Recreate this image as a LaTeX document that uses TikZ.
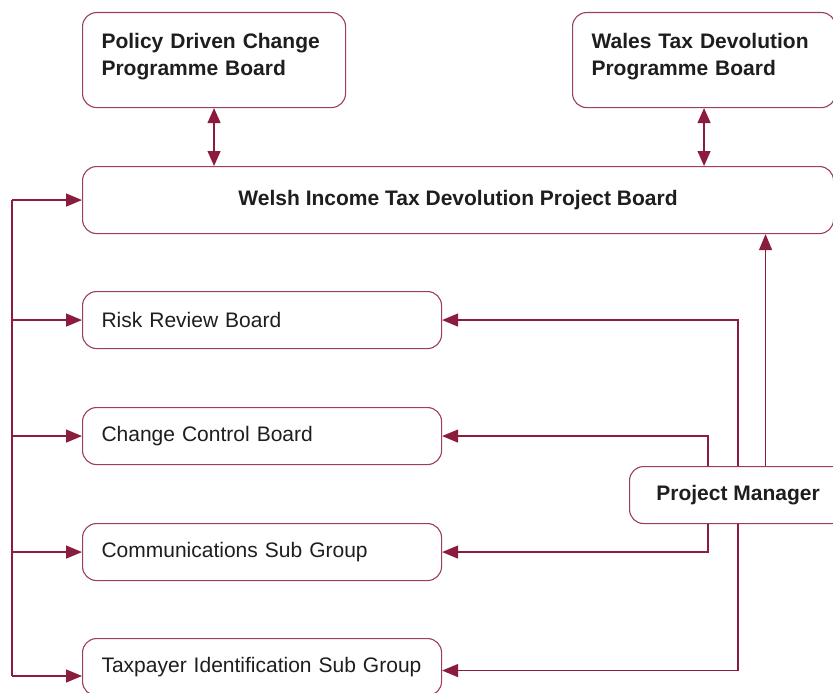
\documentclass[tikz,border=0pt]{standalone}
\usepackage{fontspec}
\setmainfont{Liberation Sans}
\usepackage{xcolor}
\usetikzlibrary{arrows.meta}
\definecolor{wine}{RGB}{140,28,62}
\definecolor{ink}{RGB}{30,30,30}

\begin{document}
\begin{tikzpicture}[x=1pt,y=-1pt,
  every node/.style={font=\fontsize{21}{27}\selectfont, text=ink},
  board/.style={draw=wine!85, line width=1.1pt, rounded corners=14pt, fill=white, anchor=north west},
  topboard/.style={board, text width=225pt, inner xsep=19pt, minimum height=95pt, align=left, text depth=38pt, font=\fontsize{21}{27}\selectfont\bfseries},
  subboard/.style={board, text width=321pt, inner xsep=19pt, minimum height=57pt, align=left},
  link/.style={draw=wine, line width=1.2pt},
  arr/.style={link, -{Triangle[length=16pt,width=13pt]}},
  dblarr/.style={link, {Triangle[length=15pt,width=13pt]}-{Triangle[length=15pt,width=13pt]}}]
\useasboundingbox (0,0) rectangle (833,693);
\node [topboard] (pdc) at (82,12) {Policy Driven Change\\Programme Board};
\node [topboard] (wtd) at (572,12) {Wales Tax Devolution\\Programme Board};
\node [board, minimum width=751pt, minimum height=67pt, font=\fontsize{21}{27}\selectfont\bfseries] (wit) at (82,166) {Welsh Income Tax Devolution Project Board};
\node [subboard] (rrb) at (82,291) {Risk Review Board};
\node [subboard] (ccb) at (82,407) {Change Control Board};
\node [subboard] (csg) at (82,523) {Communications Sub Group};
\node [subboard] (tis) at (82,638) {Taxpayer Identification Sub Group};
\node [board, minimum width=217pt, minimum height=57pt, font=\fontsize{21}{27}\selectfont\bfseries] (pm) at (629,466) {Project Manager};
\draw [dblarr] (pdc.south) -- (pdc.south |- wit.north);
\draw [dblarr] (wtd.south) -- (wtd.south |- wit.north);
\coordinate (bustop) at (12,200);
\coordinate (busbot) at (12,676);
\draw [link] (bustop) -- (busbot);
\foreach \n in {wit,rrb,ccb,csg}
  \draw [arr] (bustop |- \n.west) -- (\n.west);
\draw [arr] (busbot) -- (busbot -| tis.west);
\draw [arr] ([xshift=27.5pt]pm.north) -- ([xshift=27.5pt]pm.north |- wit.south);
\draw [arr] (pm.north) |- (rrb.east);
\draw [arr] ([xshift=-30pt]pm.north) |- (ccb.east);
\draw [arr] ([xshift=-30pt]pm.south) |- (csg.east);
\draw [arr] (pm.south) |- ([yshift=-3.5pt]tis.east);
\end{tikzpicture}
\end{document}
